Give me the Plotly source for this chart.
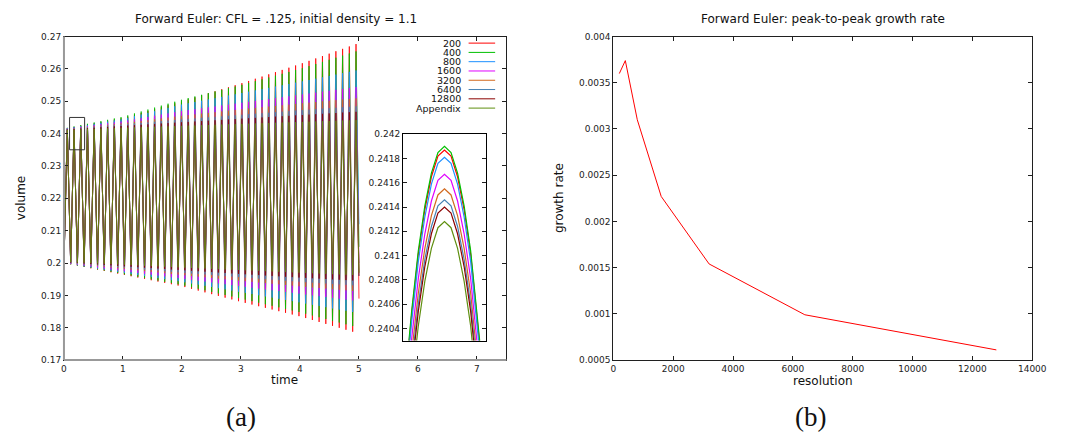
import numpy as np
import plotly.graph_objects as go

W, H = 1079, 441

# ---------------- data ----------------
series_names = ["200", "400", "800", "1600", "3200", "6400", "12800", "Appendix"]
series_colors = ["#ff0000", "#00c000", "#1e90ff", "#e000ff", "#d2691e", "#4682b4", "#8b0000", "#5f8f10"]

# envelope readings (volume) at these times
read_times = [0, 1, 2, 3, 4, 5]
peaks_200 = [0.2415, 0.2448, 0.2500, 0.2555, 0.2615, 0.2680]
peaks_400 = [0.2416, 0.2452, 0.2505, 0.2550, 0.2600, 0.2657]
peaks_800 = [0.2415, 0.2445, 0.2490, 0.2525, 0.2560, 0.2597]
peaks_1600 = [0.2414, 0.2438, 0.2470, 0.2495, 0.2520, 0.2545]
peaks_3200 = [0.2413, 0.2432, 0.2455, 0.2475, 0.2493, 0.2510]
peaks_6400 = [0.2413, 0.2428, 0.2444, 0.2458, 0.2472, 0.2485]
peaks_12800 = [0.2412, 0.2424, 0.2435, 0.2446, 0.2457, 0.2468]
peaks_app = [0.2411, 0.2418, 0.2424, 0.2430, 0.2436, 0.2442]

troughs_200 = [0.2000, 0.1964, 0.1928, 0.1880, 0.1835, 0.1782]
troughs_400 = [0.2000, 0.1966, 0.1932, 0.1890, 0.1848, 0.1800]
troughs_800 = [0.2000, 0.1970, 0.1942, 0.1910, 0.1878, 0.1845]
troughs_1600 = [0.2001, 0.1975, 0.1952, 0.1928, 0.1905, 0.1882]
troughs_3200 = [0.2002, 0.1982, 0.1963, 0.1945, 0.1928, 0.1912]
troughs_6400 = [0.2002, 0.1986, 0.1970, 0.1956, 0.1942, 0.1930]
troughs_12800 = [0.2003, 0.1990, 0.1978, 0.1966, 0.1955, 0.1945]
troughs_app = [0.2004, 0.1995, 0.1986, 0.1978, 0.1970, 0.1962]

end_values = [0.189, 0.205, 0.212, 0.200, 0.197, 0.196, 0.196, 0.197]
oscillation_period = 0.1138
n_half_periods = 88
t_end = 5.0

peak_env = [peaks_200, peaks_400, peaks_800, peaks_1600, peaks_3200, peaks_6400, peaks_12800, peaks_app]
trough_env = [troughs_200, troughs_400, troughs_800, troughs_1600, troughs_3200, troughs_6400, troughs_12800, troughs_app]

# inset: close-up of one peak
inset_time = [0.27629, 0.27774, 0.27920, 0.28065, 0.28210, 0.28355, 0.28500,
              0.28645, 0.28790, 0.28935, 0.29080, 0.29226, 0.29371]
inset_200 = [0.23993, 0.24052, 0.24101, 0.24138, 0.24165, 0.24182, 0.24187, 0.24182, 0.24165, 0.24138, 0.24101, 0.24052, 0.23993]
inset_400 = [0.23996, 0.24055, 0.24104, 0.24141, 0.24168, 0.24185, 0.24190, 0.24185, 0.24168, 0.24141, 0.24104, 0.24055, 0.23996]
inset_800 = [0.23987, 0.24046, 0.24095, 0.24132, 0.24159, 0.24176, 0.24181, 0.24176, 0.24159, 0.24132, 0.24095, 0.24046, 0.23987]
inset_1600 = [0.23973, 0.24032, 0.24081, 0.24118, 0.24145, 0.24162, 0.24167, 0.24162, 0.24145, 0.24118, 0.24081, 0.24032, 0.23973]
inset_3200 = [0.23961, 0.24020, 0.24069, 0.24106, 0.24133, 0.24150, 0.24155, 0.24150, 0.24133, 0.24106, 0.24069, 0.24020, 0.23961]
inset_6400 = [0.23952, 0.24011, 0.24060, 0.24097, 0.24124, 0.24141, 0.24146, 0.24141, 0.24124, 0.24097, 0.24060, 0.24011, 0.23952]
inset_12800 = [0.23946, 0.24005, 0.24054, 0.24091, 0.24118, 0.24135, 0.24140, 0.24135, 0.24118, 0.24091, 0.24054, 0.24005, 0.23946]
inset_app = [0.23934, 0.23993, 0.24042, 0.24079, 0.24106, 0.24123, 0.24128, 0.24123, 0.24106, 0.24079, 0.24042, 0.23993, 0.23934]
inset_series = [inset_200, inset_400, inset_800, inset_1600, inset_3200, inset_6400, inset_12800, inset_app]

zoom_box_t = [0.095, 0.35]
zoom_box_v = [0.235, 0.245]

# right panel
resolution = [200, 400, 800, 1600, 3200, 6400, 12800]
growth_rate = [0.00360, 0.00374, 0.00310, 0.00227, 0.00154, 0.00099, 0.00061]

main_yticks = [0.17, 0.18, 0.19, 0.20, 0.21, 0.22, 0.23, 0.24, 0.25, 0.26, 0.27]
main_yticktext = ["0.17", "0.18", "0.19", "0.2", "0.21", "0.22", "0.23", "0.24", "0.25", "0.26", "0.27"]
main_xticks = [0, 1, 2, 3, 4, 5, 6, 7]
inset_yticks = [0.2404, 0.2406, 0.2408, 0.2410, 0.2412, 0.2414, 0.2416, 0.2418, 0.2420]
inset_yticktext = ["0.2404", "0.2406", "0.2408", "0.241", "0.2412", "0.2414", "0.2416", "0.2418", "0.242"]
right_xticks = [0, 2000, 4000, 6000, 8000, 10000, 12000, 14000]
right_yticks = [0.0005, 0.001, 0.0015, 0.002, 0.0025, 0.003, 0.0035, 0.004]
right_yticktext = ["0.0005", "0.001", "0.0015", "0.002", "0.0025", "0.003", "0.0035", "0.004"]

# ---------------- helpers ----------------
def px(x):
    return x / W

def py(y):
    return 1 - y / H

FONT = "DejaVu Sans"
TICKCOL = "#222222"
TICKSIZE = 9

fig = go.Figure()

# main oscillation traces
half_t = np.arange(n_half_periods) * oscillation_period / 2
for i, name in enumerate(series_names):
    vals = []
    for k, t in enumerate(half_t):
        env = peak_env[i] if k % 2 == 1 else trough_env[i]
        vals.append(float(np.interp(t, read_times, env)))
    tt = list(half_t) + [t_end]
    vals.append(end_values[i])
    fig.add_trace(go.Scatter(x=tt, y=vals, mode="lines", line=dict(color=series_colors[i], width=0.8),
                             showlegend=False, xaxis="x", yaxis="y", name=name))

# inset traces
for i, name in enumerate(series_names):
    fig.add_trace(go.Scatter(x=inset_time, y=inset_series[i], mode="lines",
                             line=dict(color=series_colors[i], width=1.2),
                             showlegend=False, xaxis="x3", yaxis="y3", name=name))

# right panel
fig.add_trace(go.Scatter(x=resolution, y=growth_rate, mode="lines", line=dict(color="#ff0000", width=1),
                         showlegend=False, xaxis="x2", yaxis="y2"))

axis_common = dict(showline=True, linecolor="#202020", linewidth=1, mirror="allticks",
                   ticks="inside", ticklen=4, tickcolor="#202020", showgrid=False, zeroline=False,
                   tickfont=dict(family=FONT, size=TICKSIZE, color=TICKCOL))

main_dom_x = [px(62), px(512)]
main_dom_y = [py(363.3), py(32.3)]
right_dom_x = [px(620.7), px(1046.7)]

fig.update_layout(
    width=W, height=H, autosize=False,
    margin=dict(l=0, r=0, t=0, b=0),
    paper_bgcolor="white", plot_bgcolor="white",
    xaxis=dict(domain=main_dom_x, range=[0, 7.5], tickvals=main_xticks, anchor="y", **axis_common),
    yaxis=dict(domain=main_dom_y, range=[0.17, 0.27], tickvals=main_yticks, ticktext=main_yticktext,
               anchor="x", **axis_common),
    xaxis2=dict(domain=right_dom_x, range=[0, 14000], tickvals=right_xticks,
                ticktext=[str(v) for v in right_xticks], anchor="y2", **axis_common),
    yaxis2=dict(domain=main_dom_y, range=[0.0005, 0.004], tickvals=right_yticks, ticktext=right_yticktext,
                anchor="x2", **axis_common),
    xaxis3=dict(domain=[px(406.7), px(491.7)], range=[inset_time[0] - 0.0005, inset_time[-1] + 0.0006],
                showline=True, linecolor="#000000", linewidth=1, mirror=True, ticks="",
                showticklabels=False, showgrid=False, zeroline=False, anchor="y3"),
    yaxis3=dict(domain=[py(343.3), py(132.3)], range=[0.2403, 0.2420], tickvals=inset_yticks,
                ticktext=inset_yticktext, anchor="x3",
                showline=True, linecolor="#000000", linewidth=1, mirror="allticks",
                ticks="inside", ticklen=4, tickcolor="#202020", showgrid=False, zeroline=False,
                tickfont=dict(family=FONT, size=TICKSIZE, color=TICKCOL)),
)

annotations = []
shapes = []

def text(x, y, s, size=12, angle=0, xanchor="center", family=FONT, color="#111111"):
    annotations.append(dict(x=x, y=y, xref="paper", yref="paper", text=s, showarrow=False,
                            xanchor=xanchor, yanchor="middle", textangle=angle,
                            font=dict(family=family, size=size, color=color)))

text(px(278), py(14), "Forward Euler: CFL = .125, initial density = 1.1", size=12)
text(px(834), py(14), "Forward Euler: peak-to-peak growth rate", size=12)
text(px(18), py(198), "volume", size=12, angle=-90)
text(px(286), py(384), "time", size=12)
text(px(565), py(198), "growth rate", size=12, angle=-90)
text(px(834), py(385), "resolution", size=12)
text(px(242), py(422), "(a)", size=27, family="Liberation Serif")
text(px(821), py(422), "(b)", size=27, family="Liberation Serif")

# legend (gnuplot style: label then line sample)
legend_y0 = 39
legend_dy = 9.5
for i, name in enumerate(series_names):
    yy = legend_y0 + i * legend_dy
    text(px(468), py(yy), name, size=9.5, xanchor="right", color="#111111")
    shapes.append(dict(type="line", xref="paper", yref="paper", x0=px(473.5), x1=px(500.5),
                       y0=py(yy), y1=py(yy), line=dict(color=series_colors[i], width=1)))

# zoom box marking the inset region
shapes.append(dict(type="rect", xref="x", yref="y", x0=zoom_box_t[0], x1=zoom_box_t[1],
                   y0=zoom_box_v[0], y1=zoom_box_v[1], line=dict(color="#333333", width=1)))

# gray left/bottom borders of the left panel
shapes.append(dict(type="line", xref="paper", yref="paper", x0=main_dom_x[0], x1=main_dom_x[0],
                   y0=main_dom_y[0], y1=main_dom_y[1], line=dict(color="#999999", width=2)))
shapes.append(dict(type="line", xref="paper", yref="paper", x0=main_dom_x[0], x1=main_dom_x[1],
                   y0=main_dom_y[0], y1=main_dom_y[0], line=dict(color="#999999", width=2)))

fig.update_layout(annotations=annotations, shapes=shapes)

fig.write_html("out.html")
